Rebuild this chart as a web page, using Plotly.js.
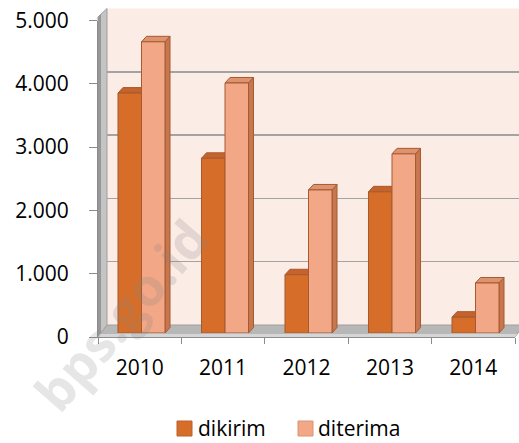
<!DOCTYPE html>
<html>
<head>
<meta charset="utf-8">
<script src="https://cdn.plot.ly/plotly-3.0.1.min.js"></script>
<style>html,body{margin:0;padding:0;background:#fff;}#chart{width:519px;height:443px;}</style>
</head>
<body>
<div id="chart"></div>
<script>
// ---- data ----
const years = [2010, 2011, 2012, 2013, 2014];
const yearLabels = ['2010', '2011', '2012', '2013', '2014'];
const seriesNames = ['dikirim', 'diterima'];
const dikirim = [3790, 2760, 920, 2230, 250];
const diterima = [4600, 3950, 2260, 2830, 790];
const yTickVals = [0, 1000, 2000, 3000, 4000, 5000];
const yTickText = ['0', '1.000', '2.000', '3.000', '4.000', '5.000'];
const gridVals = [1000, 2000, 3000, 4000, 5000];
const watermark = 'bps.go.id';

// ---- styles / geometry ----
const W = 519, H = 443;
const fx = px => px / W;
const fy = py => 1 - py / H;
const FONT = 'Open Sans, Noto Sans, sans-serif';
const colFront = ['#D66E2A', '#F2A786'];
const colTop = ['#C5632C', '#DD9370'];
const colSide = ['#B35C2C', '#C7774F'];
const legBorder = ['#B8612C', '#D99474'];
const outline = '#A65A2E';
const gridCol = '#A3A3A3';
const axisCol = '#8C8C8C';

const barDomX = [99.75, 517.25];
const barDomY = [333, 16.5];
const bargap = 0.437;
const dxU = 5 / ((barDomX[1] - barDomX[0]) / years.length);
const dyU = 5.5 / ((barDomY[0] - barDomY[1]) / 5000);
const halfW = (1 - bargap) / 2;

const traces = [];
traces.push({type: 'scatter', x: [null], y: [null], xaxis: 'x', yaxis: 'y', showlegend: false, hoverinfo: 'skip'});
[dikirim, diterima].forEach((vals, i) => {
  traces.push({
    type: 'bar', x: years, y: vals, name: seriesNames[i], xaxis: 'x2', yaxis: 'y2',
    showlegend: false,
    marker: {color: colFront[i], line: {color: outline, width: 1}},
    hoverinfo: 'x+y'
  });
});
traces.push({type: 'scatter', mode: 'markers', x: yearLabels, y: yearLabels.map(() => null),
  xaxis: 'x3', yaxis: 'y3', showlegend: false, hoverinfo: 'skip'});

const shapes = [];
[dikirim, diterima].forEach((vals, i) => {
  vals.forEach((v, k) => {
    const x0 = years[k] + (i === 0 ? -halfW : 0);
    const x1 = x0 + halfW;
    shapes.push({type: 'path', xref: 'x2', yref: 'y2', layer: 'between',
      path: `M ${x1} 0 L ${x1 + dxU} ${dyU} L ${x1 + dxU} ${v + dyU} L ${x1} ${v} Z`,
      fillcolor: colSide[i], line: {color: outline, width: 1}});
    shapes.push({type: 'path', xref: 'x2', yref: 'y2', layer: 'between',
      path: `M ${x0} ${v} L ${x0 + dxU} ${v + dyU} L ${x1 + dxU} ${v + dyU} L ${x1} ${v} Z`,
      fillcolor: colTop[i], line: {color: outline, width: 1}});
  });
});
const P = (x, y) => `${fx(x)} ${fy(y)}`;
shapes.unshift(
  {type: 'path', xref: 'paper', yref: 'paper', layer: 'below', path: `M ${P(107, 8.5)} L ${P(519, 8.5)} L ${P(519, 325)} L ${P(107, 325)} Z`, fillcolor: '#FCECE6', line: {width: 0}},
  {type: 'path', xref: 'paper', yref: 'paper', layer: 'below', path: `M ${P(98, 17)} L ${P(107, 8.5)} L ${P(107, 325)} L ${P(98, 337)} Z`, fillcolor: '#C4C4C4', line: {color: '#A0A0A0', width: 1}},
  {type: 'path', xref: 'paper', yref: 'paper', layer: 'below', path: `M ${P(98, 17)} L ${P(101, 14)} L ${P(101, 333)} L ${P(98, 337)} Z`, fillcolor: '#979797', line: {width: 0}},
  {type: 'path', xref: 'paper', yref: 'paper', layer: 'below', path: `M ${P(98, 337)} L ${P(107, 325)} L ${P(524, 325)} L ${P(515, 337)} Z`, fillcolor: '#B7B7B7', line: {color: '#A0A0A0', width: 1}},
  {type: 'path', xref: 'paper', yref: 'paper', layer: 'below', path: `M ${P(98, 337)} L ${P(100, 334)} L ${P(517, 334)} L ${P(515, 337)} Z`, fillcolor: '#D6D6D6', line: {width: 0}}
);

// legend (swatches + labels)
const legSwatchX = [177, 298];
const legTextX = [197, 317];
const legY = 428;
const annotations = [];
seriesNames.forEach((name, i) => {
  shapes.push({type: 'rect', xref: 'paper', yref: 'paper', layer: 'above',
    x0: fx(legSwatchX[i]), x1: fx(legSwatchX[i] + 15), y0: fy(legY + 8), y1: fy(legY - 7),
    fillcolor: colFront[i], line: {color: legBorder[i], width: 1}});
  annotations.push({text: name, xref: 'paper', yref: 'paper', x: fx(legTextX[i]), y: fy(legY),
    xanchor: 'left', yanchor: 'middle', showarrow: false, borderpad: 0,
    font: {family: FONT, size: 21, color: '#000'}});
});
annotations.push({
  text: watermark, xref: 'paper', yref: 'paper', x: fx(120), y: fy(314), xanchor: 'center', yanchor: 'middle',
  showarrow: false, textangle: -49,
  font: {family: FONT, size: 52, color: 'rgba(130,130,130,0.2)', weight: 'bold'}
});

const layout = {
  width: W, height: H,
  margin: {l: 0, r: 0, t: 0, b: 0},
  paper_bgcolor: '#FFFFFF', plot_bgcolor: 'rgba(0,0,0,0)',
  font: {family: FONT, size: 21, color: '#000'},
  barmode: 'group', bargap: bargap, bargroupgap: 0,
  showlegend: false,
  xaxis: {domain: [fx(107), 1], range: [0, 1], visible: false, anchor: 'y'},
  yaxis: {domain: [fy(325), fy(8.5)], range: [0, 5000], anchor: 'x', tickvals: gridVals,
    showgrid: true, gridcolor: gridCol, gridwidth: 1.5, showticklabels: false, ticks: '',
    zeroline: false, showline: false},
  xaxis2: {domain: [fx(barDomX[0]), fx(barDomX[1])], range: [years[0] - 0.5, years[years.length - 1] + 0.5],
    visible: false, anchor: 'y2', type: 'linear'},
  yaxis2: {domain: [fy(barDomY[0]), fy(barDomY[1])], range: [0, 5000], visible: false, anchor: 'x2'},
  xaxis3: {domain: [fx(98), fx(515)], anchor: 'y3', type: 'category', categoryorder: 'array', categoryarray: yearLabels,
    range: [-0.5, 4.5], tickson: 'boundaries', ticks: 'outside', ticklen: 6, tickcolor: axisCol, tickwidth: 1,
    showline: true, linecolor: axisCol, linewidth: 1, showgrid: false, zeroline: false,
    tickfont: {family: FONT, size: 21, color: '#000'}, ticklabelstandoff: 12},
  yaxis3: {domain: [fy(337), fy(20.5)], anchor: 'x3', range: [0, 5000], tickvals: yTickVals, ticktext: yTickText,
    ticks: 'outside', ticklen: 8, tickcolor: axisCol, tickwidth: 1, showline: true, linecolor: axisCol, linewidth: 1,
    showgrid: false, zeroline: false, tickfont: {family: FONT, size: 21, color: '#000'}, ticklabelstandoff: 16},
  shapes: shapes,
  annotations: annotations
};

Plotly.newPlot('chart', traces, layout, {displayModeBar: false, staticPlot: true});
</script>
</body>
</html>
